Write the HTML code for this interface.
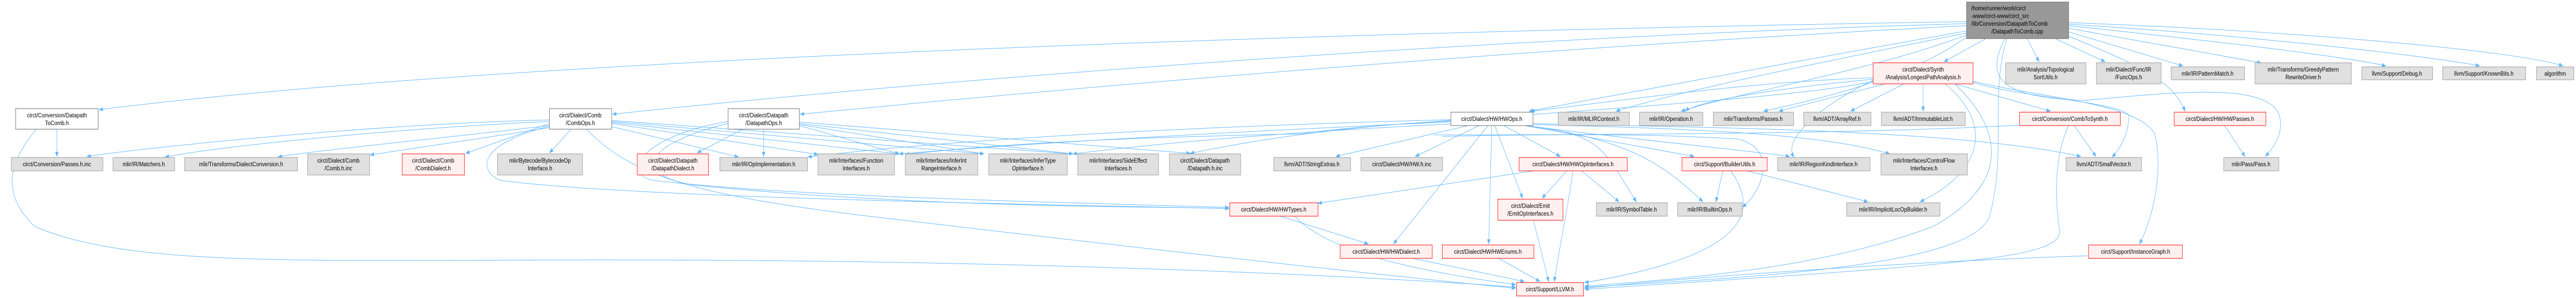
<!DOCTYPE html>
<html><head><meta charset="utf-8"><style>
html,body{margin:0;padding:0;background:#fff;overflow:hidden;width:100%;height:100%;}
svg{display:block;width:100vw;height:100vh;}
text{font-family:"Liberation Sans",sans-serif;font-size:12px;fill:#000;}
.e{fill:none;stroke:#63b8ff;stroke-width:1;}
.g{fill:#e0e0e0;stroke:#999;}
.r{fill:#fff0f0;stroke:#ff0000;}
.w{fill:#fff;stroke:#666;}
.t{fill:#999;stroke:#666;}
</style></head><body>
<svg viewBox="0 0 5930 579" preserveAspectRatio="none" xmlns="http://www.w3.org/2000/svg">
<defs><marker id="a" markerWidth="10" markerHeight="8" refX="9" refY="4" orient="auto" markerUnits="userSpaceOnUse"><path d="M0,0 L10,4 L0,8 z" fill="#63b8ff"/></marker></defs>
<g class="e" marker-end="url(#a)">
<path d="M4527,42 C3200,60 1200,110 228,213"/>
<path d="M4527,46 C3500,70 2200,150 1410,222"/>
<path d="M4527,50 C3600,90 2600,160 1842,222"/>
<path d="M4527,60 C4200,110 3800,170 3520,216"/>
<path d="M4527,64 C4200,120 3900,170 3720,216"/>
<path d="M4527,68 C4300,140 4000,180 3870,216"/>
<path d="M4527,72 C4400,150 4200,190 4060,216"/>
<path d="M4572,75 L4475,120"/>
<path d="M4667,75 L4694,120"/>
<path d="M4731,75 L4846,120"/>
<path d="M4762,62 L5025,128"/>
<path d="M4762,55 L5205,122"/>
<path d="M4762,50 C5100,80 5400,110 5492,128"/>
<path d="M4762,47 C5200,70 5600,110 5708,128"/>
<path d="M4762,44 C5300,60 5800,100 5900,128"/>
<path d="M4762,70 C4900,120 5000,150 5030,216" />
<path d="M4615,75 C4570,150 4600,190 4800,195 C5050,175 5250,160 5250,240 C5250,270 5230,290 5215,304"/>
<path d="M4620,75 C4580,180 4620,300 4580,420 C4540,520 4000,540 3648,558"/>
<path d="M131,251 L131,304"/>
<path d="M84,251 C15,320 5,380 80,440 C300,520 700,505 1400,505 C2500,505 3300,545 3489,558"/>
<path d="M1265,240 L1072,298"/>
<path d="M1315,251 L1265,297"/>
<path d="M1265,233 C900,240 400,280 200,304"/>
<path d="M1265,236 C900,250 500,285 380,305"/>
<path d="M1265,244 C1000,270 700,295 640,305"/>
<path d="M1265,248 C1100,270 900,295 852,301"/>
<path d="M1408,246 L1700,305"/>
<path d="M1408,240 L1883,300"/>
<path d="M1408,238 L2070,299"/>
<path d="M1408,236 L2265,299"/>
<path d="M1408,234 L2470,299"/>
<path d="M1265,245 C1100,280 1100,330 1150,350 C1400,380 2200,395 2829,405"/>
<path d="M1350,251 C1450,340 1600,380 2000,420 C2800,500 3300,545 3489,560"/>
<path d="M1710,251 L1605,297"/>
<path d="M1758,251 L1758,304"/>
<path d="M1840,237 L2740,298"/>
<path d="M1840,240 L2470,299"/>
<path d="M1840,242 L2265,299"/>
<path d="M1840,244 L2070,299"/>
<path d="M1676,236 C1500,260 1420,330 1500,350 C1800,380 2300,390 2829,403"/>
<path d="M1676,240 C1480,280 1450,340 1600,360 C2200,410 2800,400 2829,406"/>
<path d="M3380,244 L3075,304"/>
<path d="M3405,244 L3258,304"/>
<path d="M3360,232 C3000,240 2300,260 1860,305"/>
<path d="M3360,236 C3000,250 2500,270 2070,299"/>
<path d="M3360,240 C3000,255 2700,275 2470,299"/>
<path d="M3340,235 C3100,245 2900,270 2740,298"/>
<path d="M3425,244 L3208,474"/>
<path d="M3434,244 L3427,474"/>
<path d="M3441,244 L3505,385"/>
<path d="M3462,244 L3592,304"/>
<path d="M3510,244 C3690,260 3690,290 3767,392"/>
<path d="M3510,244 C3750,270 3830,320 3920,392"/>
<path d="M3510,244 L3900,304"/>
<path d="M3510,244 C3800,275 4000,290 4120,304"/>
<path d="M3529,242 C3900,250 4200,260 4350,299"/>
<path d="M3529,240 C3900,248 4500,250 4790,304"/>
<path d="M3320,265 C3600,260 3800,260 4000,270 C4100,290 4050,380 4011,402"/>
<path d="M3530,332 L3034,395"/>
<path d="M3607,332 L3550,385"/>
<path d="M3621,332 C3610,400 3590,480 3578,547"/>
<path d="M3641,332 L3727,392"/>
<path d="M3530,428 L3565,547"/>
<path d="M3252,502 L3509,547"/>
<path d="M3450,502 L3545,547"/>
<path d="M2947,420 L3150,474"/>
<path d="M2980,420 C3050,480 3200,520 3489,553"/>
<path d="M3966,332 L3950,392"/>
<path d="M3984,332 C4060,420 4000,500 3648,549"/>
<path d="M4022,332 L4300,392"/>
<path d="M4312,151 C4000,160 3700,200 3524,216"/>
<path d="M4312,154 C4050,175 3900,200 3880,216"/>
<path d="M4340,163 L4095,216"/>
<path d="M4383,163 L4260,216"/>
<path d="M4427,163 L4427,216"/>
<path d="M4500,163 L4720,216"/>
<path d="M4542,160 C4650,190 4920,200 4900,230 C4900,260 4880,290 4862,305"/>
<path d="M4542,158 C4700,190 4920,200 4960,260 C4980,320 4960,420 4925,474"/>
<path d="M4478,163 C4600,250 4550,340 4420,392"/>
<path d="M4500,163 C4620,260 4620,360 4450,440 C4200,520 3900,540 3648,556"/>
<path d="M4312,158 C4100,200 3100,240 3000,260 C2400,270 2200,290 2084,300"/>
<path d="M4312,156 C4200,200 4100,270 4130,305"/>
<path d="M4775,244 L4825,304"/>
<path d="M4762,244 C4730,300 4730,380 4740,440 C4760,500 4600,510 3648,562"/>
<path d="M5121,244 L5168,304"/>
<path d="M4808,497 C4500,505 4000,530 3648,560"/>
</g>
<path class="e" d="M4649,243 C4300,260 3700,262 3300,262"/>
<g>
<rect class="t" x="4527" y="4" width="235" height="71"/>
<text x="4538" y="20">/home/runner/work/circt</text>
<text x="4538" y="35">-www/circt-www/circt_src</text>
<text x="4538" y="50">/lib/Conversion/DatapathToComb</text>
<text x="4644" y="65" text-anchor="middle">/DatapathToComb.cpp</text>
</g>
<g text-anchor="middle">
<rect class="r" x="4312" y="122" width="230" height="41"/><text x="4427" y="139">circt/Dialect/Synth</text><text x="4427" y="154">/Analysis/LongestPathAnalysis.h</text>
<rect class="g" x="4617" y="122" width="185" height="41"/><text x="4709" y="139">mlir/Analysis/Topological</text><text x="4709" y="154">SortUtils.h</text>
<rect class="g" x="4826" y="122" width="149" height="41"/><text x="4900" y="139">mlir/Dialect/Func/IR</text><text x="4900" y="154">/FuncOps.h</text>
<rect class="g" x="4998" y="130" width="169" height="25"/><text x="5082" y="147">mlir/IR/PatternMatch.h</text>
<rect class="g" x="5191" y="122" width="222" height="41"/><text x="5302" y="139">mlir/Transforms/GreedyPattern</text><text x="5302" y="154">RewriteDriver.h</text>
<rect class="g" x="5437" y="130" width="163" height="25"/><text x="5518" y="147">llvm/Support/Debug.h</text>
<rect class="g" x="5623" y="130" width="191" height="25"/><text x="5718" y="147">llvm/Support/KnownBits.h</text>
<rect class="g" x="5839" y="130" width="86" height="25"/><text x="5882" y="147">algorithm</text>
<rect class="w" x="36" y="211" width="190" height="40"/><text x="131" y="228">circt/Conversion/Datapath</text><text x="131" y="243">ToComb.h</text>
<rect class="w" x="1265" y="211" width="143" height="40"/><text x="1336" y="228">circt/Dialect/Comb</text><text x="1336" y="243">/CombOps.h</text>
<rect class="w" x="1676" y="211" width="164" height="40"/><text x="1758" y="228">circt/Dialect/Datapath</text><text x="1758" y="243">/DatapathOps.h</text>
<rect class="w" x="3340" y="218" width="189" height="26"/><text x="3434" y="235">circt/Dialect/HW/HWOps.h</text>
<rect class="g" x="3587" y="218" width="164" height="26"/><text x="3669" y="235">mlir/IR/MLIRContext.h</text>
<rect class="g" x="3774" y="218" width="146" height="26"/><text x="3847" y="235">mlir/IR/Operation.h</text>
<rect class="g" x="3944" y="218" width="185" height="26"/><text x="4036" y="235">mlir/Transforms/Passes.h</text>
<rect class="g" x="4152" y="218" width="155" height="26"/><text x="4229" y="235">llvm/ADT/ArrayRef.h</text>
<rect class="g" x="4331" y="218" width="193" height="26"/><text x="4427" y="235">llvm/ADT/ImmutableList.h</text>
<rect class="r" x="4649" y="218" width="232" height="26"/><text x="4765" y="235">circt/Conversion/CombToSynth.h</text>
<rect class="r" x="5005" y="218" width="211" height="26"/><text x="5110" y="235">circt/Dialect/HW/HWPasses.h</text>
<rect class="g" x="26" y="306" width="211" height="26"/><text x="131" y="323">circt/Conversion/Passes.h.inc</text>
<rect class="g" x="260" y="306" width="142" height="26"/><text x="331" y="323">mlir/IR/Matchers.h</text>
<rect class="g" x="425" y="306" width="260" height="26"/><text x="555" y="323">mlir/Transforms/DialectConversion.h</text>
<rect class="g" x="708" y="299" width="143" height="41"/><text x="779" y="316">circt/Dialect/Comb</text><text x="779" y="331">/Comb.h.inc</text>
<rect class="r" x="926" y="299" width="143" height="41"/><text x="997" y="316">circt/Dialect/Comb</text><text x="997" y="331">/CombDialect.h</text>
<rect class="g" x="1145" y="299" width="196" height="41"/><text x="1243" y="316">mlir/Bytecode/BytecodeOp</text><text x="1243" y="331">Interface.h</text>
<rect class="r" x="1467" y="299" width="164" height="41"/><text x="1549" y="316">circt/Dialect/Datapath</text><text x="1549" y="331">/DatapathDialect.h</text>
<rect class="g" x="1657" y="306" width="202" height="26"/><text x="1758" y="323">mlir/IR/OpImplementation.h</text>
<rect class="g" x="1883" y="299" width="176" height="41"/><text x="1971" y="316">mlir/Interfaces/Function</text><text x="1971" y="331">Interfaces.h</text>
<rect class="g" x="2084" y="299" width="167" height="41"/><text x="2167" y="316">mlir/Interfaces/InferInt</text><text x="2167" y="331">RangeInterface.h</text>
<rect class="g" x="2276" y="299" width="181" height="41"/><text x="2366" y="316">mlir/Interfaces/InferType</text><text x="2366" y="331">OpInterface.h</text>
<rect class="g" x="2481" y="299" width="186" height="41"/><text x="2574" y="316">mlir/Interfaces/SideEffect</text><text x="2574" y="331">Interfaces.h</text>
<rect class="g" x="2692" y="299" width="164" height="41"/><text x="2774" y="316">circt/Dialect/Datapath</text><text x="2774" y="331">/Datapath.h.inc</text>
<rect class="g" x="2932" y="306" width="177" height="26"/><text x="3020" y="323">llvm/ADT/StringExtras.h</text>
<rect class="g" x="3133" y="306" width="188" height="26"/><text x="3227" y="323">circt/Dialect/HW/HW.h.inc</text>
<rect class="r" x="3497" y="306" width="249" height="26"/><text x="3621" y="323">circt/Dialect/HW/HWOpInterfaces.h</text>
<rect class="r" x="3872" y="306" width="196" height="26"/><text x="3970" y="323">circt/Support/BuilderUtils.h</text>
<rect class="g" x="4092" y="306" width="213" height="26"/><text x="4198" y="323">mlir/IR/RegionKindInterface.h</text>
<rect class="g" x="4330" y="299" width="199" height="41"/><text x="4429" y="316">mlir/Interfaces/ControlFlow</text><text x="4429" y="331">Interfaces.h</text>
<rect class="g" x="4756" y="306" width="174" height="26"/><text x="4843" y="323">llvm/ADT/SmallVector.h</text>
<rect class="g" x="5119" y="306" width="127" height="26"/><text x="5182" y="323">mlir/Pass/Pass.h</text>
<rect class="r" x="2831" y="394" width="203" height="26"/><text x="2932" y="411">circt/Dialect/HW/HWTypes.h</text>
<rect class="r" x="3448" y="387" width="150" height="41"/><text x="3523" y="404">circt/Dialect/Emit</text><text x="3523" y="419">/EmitOpInterfaces.h</text>
<rect class="g" x="3675" y="394" width="163" height="26"/><text x="3756" y="411">mlir/IR/SymbolTable.h</text>
<rect class="g" x="3862" y="394" width="149" height="26"/><text x="3936" y="411">mlir/IR/BuiltinOps.h</text>
<rect class="g" x="4251" y="394" width="215" height="26"/><text x="4358" y="411">mlir/IR/ImplicitLocOpBuilder.h</text>
<rect class="r" x="3085" y="476" width="212" height="26"/><text x="3191" y="493">circt/Dialect/HW/HWDialect.h</text>
<rect class="r" x="3320" y="476" width="211" height="26"/><text x="3425" y="493">circt/Dialect/HW/HWEnums.h</text>
<rect class="r" x="4808" y="476" width="216" height="26"/><text x="4916" y="493">circt/Support/InstanceGraph.h</text>
<rect class="r" x="3491" y="549" width="154" height="26"/><text x="3568" y="566">circt/Support/LLVM.h</text>
</g>
</svg>
</body></html>
